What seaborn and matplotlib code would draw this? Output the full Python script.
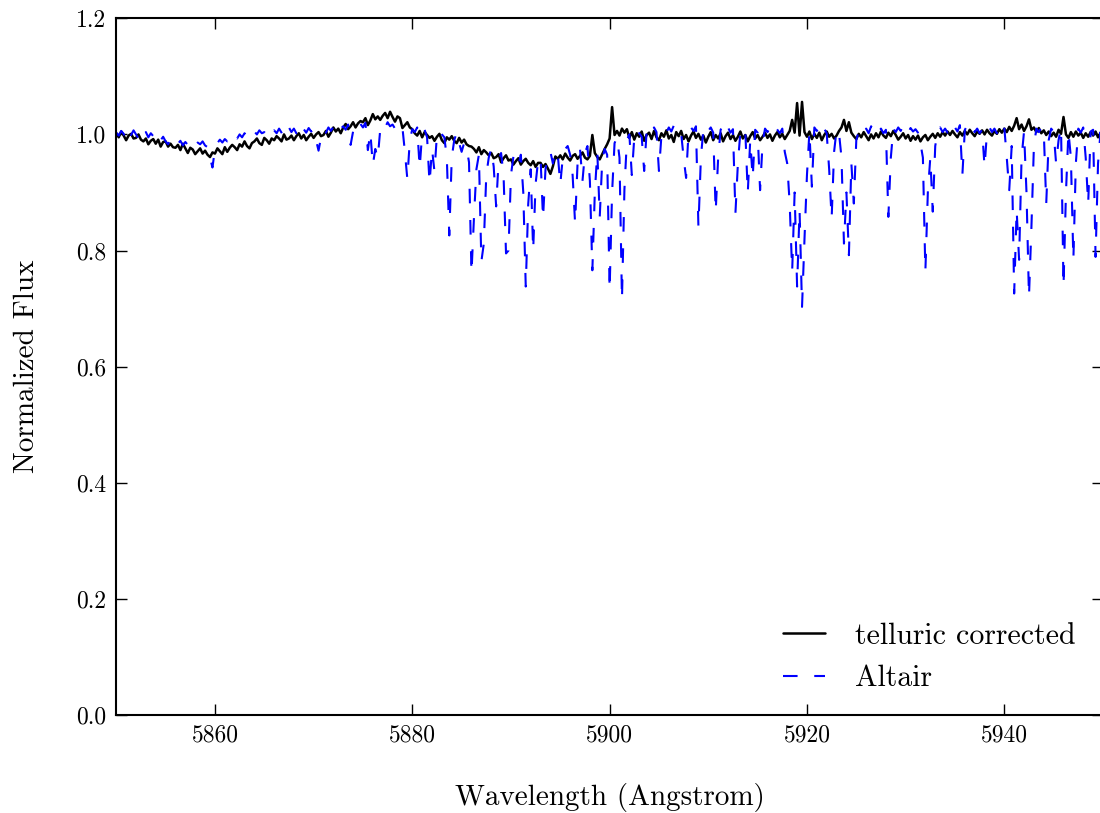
import numpy as np
import pandas as pd
import matplotlib
matplotlib.use("Agg")
import matplotlib.pyplot as plt
import seaborn as sns

# ---------------- data (0.25 A sampling) ----------------
wavelength = np.linspace(5850.0, 5950.0, 401)

telluric_a = [  # 5850.00 - 5874.75
    1.002, 0.995, 1.005, 0.998, 0.990, 0.998, 1.001, 0.993,
    0.994, 1.000, 0.991, 0.988, 0.993, 0.983, 0.989, 0.992,
    0.984, 0.991, 0.979, 0.987, 0.988, 0.979, 0.984, 0.978,
    0.977, 0.982, 0.973, 0.984, 0.976, 0.968, 0.977, 0.974,
    0.966, 0.971, 0.976, 0.967, 0.972, 0.965, 0.961, 0.969,
    0.967, 0.976, 0.971, 0.966, 0.978, 0.970, 0.977, 0.982,
    0.978, 0.973, 0.983, 0.979, 0.988, 0.980, 0.976, 0.985,
    0.988, 0.993, 0.985, 0.982, 0.994, 0.990, 0.984, 0.993,
    0.990, 0.997, 0.993, 0.988, 1.000, 0.991, 0.993, 0.998,
    0.990, 0.997, 1.002, 0.993, 0.999, 0.990, 0.996, 1.001,
    0.994, 1.000, 1.004, 0.997, 0.999, 1.006, 0.996, 1.003,
    1.012, 1.005, 1.010, 1.002, 1.012, 1.018, 1.009, 1.014,
    1.021, 1.012, 1.019, 1.023,
]
telluric_b = [  # 5875.00 - 5899.75
    1.021, 1.028, 1.016, 1.024, 1.035, 1.026, 1.031, 1.025,
    1.032, 1.037, 1.028, 1.039, 1.030, 1.022, 1.031, 1.028,
    1.011, 1.016, 1.021, 1.012, 1.009, 1.002, 0.998, 1.006,
    0.995, 1.004, 0.999, 0.994, 0.997, 0.989, 0.996, 1.001,
    0.990, 0.985, 0.995, 0.991, 0.997, 0.989, 0.985, 0.994,
    0.986, 0.991, 0.983, 0.980, 0.979, 0.975, 0.969, 0.978,
    0.966, 0.973, 0.969, 0.964, 0.968, 0.959, 0.961, 0.966,
    0.952, 0.959, 0.964, 0.955, 0.957, 0.948, 0.954, 0.959,
    0.948, 0.954, 0.958, 0.951, 0.947, 0.954, 0.944, 0.951,
    0.951, 0.944, 0.949, 0.941, 0.932, 0.945, 0.962, 0.958,
    0.964, 0.957, 0.967, 0.960, 0.955, 0.963, 0.966, 0.958,
    0.963, 0.969, 0.960, 0.957, 0.963, 0.999, 0.968, 0.961,
    0.957, 0.966, 0.975, 0.983,
]
telluric_c = [  # 5900.00 - 5924.75
    0.993, 1.047, 0.999, 1.006, 0.998, 1.010, 1.003, 1.009,
    0.994, 1.004, 0.991, 1.002, 0.996, 1.005, 0.989, 0.999,
    1.003, 0.992, 1.006, 0.995, 0.990, 1.002, 0.996, 1.007,
    0.993, 0.999, 0.987, 1.004, 0.997, 1.006, 0.992, 0.999,
    0.988, 0.998, 1.005, 0.994, 1.001, 0.991, 0.998, 0.986,
    0.996, 1.004, 0.990, 0.999, 0.993, 1.002, 0.988, 0.997,
    1.003, 0.992, 0.999, 0.989, 0.996, 1.005, 0.993, 0.999,
    0.988, 0.997, 1.004, 0.993, 0.999, 0.990, 0.996, 1.003,
    0.994, 1.000, 0.989, 0.998, 1.004, 0.995, 1.001, 0.992,
    0.999, 1.006, 1.025, 1.003, 1.054, 0.998, 1.056, 1.004,
    0.996, 1.005, 0.992, 1.001, 0.994, 1.003, 0.990, 0.999,
    1.005, 0.996, 1.001, 0.993, 0.998, 1.006, 1.012, 1.025,
    1.006, 1.021, 1.003, 0.997,
]
telluric_d = [  # 5925.00 - 5950.00
    0.992, 1.001, 0.995, 1.004, 0.997, 0.990, 1.000, 0.993,
    1.002, 0.995, 1.005, 0.998, 0.994, 1.003, 0.997, 1.006,
    0.999, 0.991, 0.996, 1.002, 0.993, 0.999, 0.989, 0.997,
    0.991, 0.998, 0.988, 0.995, 0.999, 0.990, 0.996, 1.001,
    0.994, 1.002, 0.996, 1.004, 0.998, 1.005, 0.999, 1.006,
    1.000, 0.995, 1.004, 0.998, 1.006, 1.000, 1.008, 1.002,
    0.997, 1.005, 1.001, 1.007, 1.000, 1.008, 1.002, 0.998,
    1.006, 1.001, 1.009, 1.003, 1.010, 1.004, 1.013, 1.006,
    1.015, 1.028, 1.009, 1.017, 1.006, 1.014, 1.026, 1.008,
    1.012, 1.004, 1.011, 1.002, 1.007, 0.999, 1.005, 0.997,
    1.003, 0.996, 1.008, 1.001, 1.030, 1.000, 0.994, 1.004,
    0.996, 1.005, 0.998, 1.003, 0.994, 1.002, 0.996, 1.004,
    0.998, 1.005, 0.995, 1.002, 0.999,
]

altair_a = [  # 5850.00 - 5874.75
    1.003, 0.998, 1.006, 1.001, 0.990, 1.004, 0.999, 1.007,
    1.000, 0.993, 1.005, 0.998, 1.004, 0.995, 1.002, 0.997,
    0.999, 0.985, 0.990, 0.996, 0.988, 0.983, 0.992, 0.986,
    0.990, 0.984, 0.989, 0.981, 0.987, 0.982, 0.989, 0.984,
    0.980, 0.986, 0.983, 0.988, 0.981, 0.978, 0.960, 0.943,
    0.975, 0.985, 0.991, 0.986, 0.992, 0.988, 0.995, 0.990,
    0.997, 0.993, 1.000, 0.995, 1.002, 0.997, 1.004, 0.999,
    1.005, 1.000, 1.007, 1.002, 1.004, 0.998, 1.006, 1.001,
    1.007, 1.002, 1.010, 1.003, 0.995, 1.008, 1.012, 1.004,
    1.010, 1.002, 1.015, 1.006, 1.009, 1.003, 1.011, 1.005,
    1.008, 0.990, 0.972, 0.995, 1.008, 1.003, 1.012, 1.006,
    1.013, 1.007, 1.016, 1.010, 1.014, 1.008, 1.017, 0.982,
    1.005, 1.016, 1.010, 1.018,
]
altair_b = [  # 5875.00 - 5899.75
    1.012, 1.020, 0.973, 1.004, 0.947, 0.975, 0.959, 1.008,
    1.018, 1.012, 1.021, 1.014, 1.017, 1.010, 1.015, 1.008,
    1.012, 0.970, 0.923, 0.990, 1.009, 1.004, 1.012, 0.942,
    1.002, 1.008, 0.995, 0.916, 0.975, 0.936, 1.000, 1.006,
    1.000, 0.995, 0.960, 0.826, 0.960, 0.990, 1.003, 0.985,
    0.970, 0.985, 0.978, 0.952, 0.761, 0.856, 0.940, 0.965,
    0.781, 0.812, 0.930, 0.960, 0.975, 0.945, 0.876, 0.955,
    0.968, 0.930, 0.795, 0.800, 0.930, 0.962, 0.955, 0.945,
    0.965, 0.900, 0.738, 0.880, 0.940, 0.800, 0.915, 0.955,
    0.960, 0.855, 0.940, 0.965, 0.970, 0.950, 0.972, 0.965,
    0.914, 0.960, 0.975, 0.980, 0.965, 0.930, 0.847, 0.950,
    0.975, 0.920, 0.968, 0.980, 0.920, 0.766, 0.900, 0.970,
    0.858, 0.955, 0.975, 0.965,
]
altair_c = [  # 5900.00 - 5924.75
    0.732, 0.900, 0.985, 0.995, 0.960, 0.715, 0.905, 0.990,
    1.000, 0.930, 0.995, 1.008, 1.002, 0.996, 0.937, 1.005,
    1.010, 1.002, 1.012, 1.004, 0.937, 0.998, 1.009, 1.003,
    1.012, 1.005, 1.015, 1.007, 1.010, 1.002, 0.960, 0.925,
    1.004, 1.012, 1.006, 1.014, 0.841, 0.960, 1.008, 1.015,
    1.006, 1.012, 1.003, 0.867, 0.960, 1.008, 1.016, 1.005,
    1.012, 1.003, 1.009, 0.864, 0.950, 1.004, 1.012, 1.006,
    0.899, 0.990, 0.925, 1.008, 1.003, 0.904, 0.985, 1.010,
    1.004, 1.012, 1.006, 1.014, 1.008, 1.002, 1.010, 0.970,
    0.950, 0.880, 0.764, 0.900, 0.738, 0.870, 0.703, 0.820,
    0.930, 1.005, 0.910, 1.012, 1.006, 1.014, 1.003, 1.010,
    1.002, 0.940, 0.855, 0.970, 1.008, 1.002, 0.960, 0.812,
    0.900, 0.792, 0.950, 0.881,
]
altair_d = [  # 5925.00 - 5950.00
    0.990, 1.006, 1.012, 1.004, 1.010, 1.002, 1.014, 1.006,
    1.012, 1.004, 1.010, 1.002, 1.008, 0.858, 0.960, 1.010,
    1.004, 1.012, 1.006, 1.015, 1.008, 1.002, 1.011, 1.005,
    1.009, 1.003, 0.985, 0.960, 0.764, 0.900, 0.960, 0.867,
    0.980, 1.005, 1.012, 1.004, 1.010, 1.003, 1.014, 1.006,
    1.012, 1.005, 1.016, 0.930, 1.008, 1.015, 1.006, 1.012,
    1.004, 1.010, 1.002, 1.008, 0.944, 1.005, 1.012, 1.004,
    1.010, 1.002, 1.016, 1.008, 1.012, 0.960, 0.904, 0.980,
    0.726, 0.870, 0.784, 0.960, 1.005, 0.900, 0.720, 0.841,
    0.980, 1.010, 1.004, 1.012, 1.006, 0.881, 0.990, 1.010,
    1.004, 0.950, 0.990, 1.012, 0.738, 0.900, 1.005, 0.960,
    0.784, 0.950, 1.010, 1.003, 1.012, 0.960, 0.880, 1.005,
    1.008, 0.789, 0.950, 1.004, 0.960,
]

telluric_corrected = np.array(telluric_a + telluric_b + telluric_c + telluric_d)
altair = np.array(altair_a + altair_b + altair_c + altair_d)

x_ticks = [5860, 5880, 5900, 5920, 5940]
y_ticks = [0.0, 0.2, 0.4, 0.6, 0.8, 1.0, 1.2]

# ---------------- style ----------------
sns.set_theme(style="ticks")
plt.rcParams.update({
    "font.family": ["cmr10", "DejaVu Serif"],
    "mathtext.fontset": "cm",
    "axes.formatter.use_mathtext": True,
    "axes.unicode_minus": False,
    "axes.edgecolor": "black",
    "axes.labelcolor": "black",
    "text.color": "black",
    "xtick.color": "black",
    "ytick.color": "black",
    "axes.facecolor": "white",
    "figure.facecolor": "white",
})

fig = plt.figure(figsize=(11, 8.13), dpi=100)
ax = fig.add_axes([0.1057, 0.1205, 0.897, 0.857])

sns.lineplot(x=wavelength, y=telluric_corrected, ax=ax, color="black",
             lw=1.8, estimator=None, sort=False, label="telluric corrected")
sns.lineplot(x=wavelength, y=altair, ax=ax, color="blue",
             lw=1.5, estimator=None, sort=False, label="Altair")
ax.lines[1].set_dashes([7, 8])

ax.set_xlim(5850, 5950)
ax.set_ylim(0, 1.2)
ax.set_xticks(x_ticks)
ax.set_xticklabels([str(t) for t in x_ticks])
ax.set_yticks(y_ticks)
ax.set_yticklabels([f"{t:.1f}" for t in y_ticks])
ax.tick_params(direction="in", top=True, right=True, length=8, width=1,
               labelsize=17, pad=7)
for sp in ax.spines.values():
    sp.set_visible(True)
    sp.set_linewidth(1.5)
    sp.set_color("black")
ax.grid(False)

ax.set_xlabel("Wavelength (Angstrom)", fontsize=21, labelpad=26)
ax.set_ylabel("Normalized Flux", fontsize=21, labelpad=26)

ax.legend(loc="lower right", bbox_to_anchor=(0.9838, 0.0158), borderaxespad=0,
          frameon=False, fontsize=21.5, handlelength=1.4,
          handletextpad=1.0, labelspacing=0.5)

fig.savefig("out.png", dpi=100)
